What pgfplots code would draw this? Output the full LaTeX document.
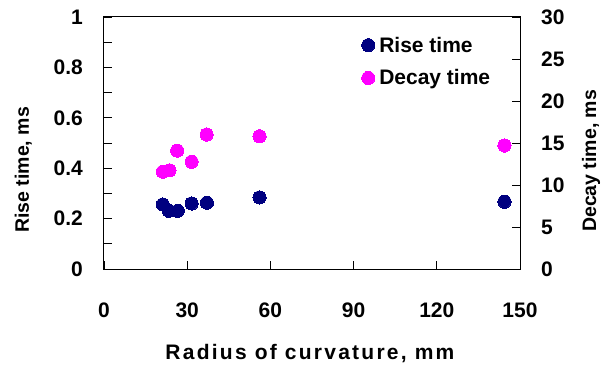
\documentclass[border=0pt]{standalone}
\usepackage{fontspec}
\setmainfont{Liberation Sans}
\usepackage{pgfplots}
\pgfplotsset{compat=1.18}
\definecolor{navyx}{RGB}{0,0,128}
\definecolor{magx}{RGB}{255,0,255}
\pgfplotstableread{
x y
21.2 0.256
23.4 0.231
26.6 0.231
31.6 0.260
37.1 0.263
56.1 0.284
144.4 0.267
}\risetable
\pgfplotstableread{
x y
21.2 11.58
23.6 11.74
26.4 14.09
31.6 12.77
37.0 16.0
56.1 15.8
144.4 14.7
}\decaytable
\pgfplotsset{
  common/.style={
    scale only axis, width=416pt, height=252pt, at={(0pt,0pt)}, anchor=south west,
    xmin=0, xmax=150,
    tick align=inside, major tick length=8pt, minor tick length=8pt,
    tick style={black, line width=0.8pt},
    axis line style={black, line width=1pt},
    /pgf/number format/assume math mode=true,
    ticklabel style={font=\fontsize{21}{21}\selectfont\bfseries, inner sep=0pt},
    ylabel style={font=\fontsize{19.5}{20}\selectfont\bfseries},
    xlabel style={font=\fontsize{21}{21}\selectfont\bfseries},
  },
  mk/.style={only marks, mark=*, mark size=6.6pt, color=#1, mark options={draw=#1, fill=#1, line width=0pt},
    legend image code/.code={\draw[##1] plot coordinates {(0pt,0pt)}; \path[draw=none,fill=none] (-6.6pt,0pt) rectangle (9pt,0.1pt);}},
}
\begin{document}
\begin{tikzpicture}
\useasboundingbox (-104pt,-95pt) rectangle (498pt,269pt);
\begin{axis}[common,
  ymin=0, ymax=1,
  xtick={0,30,...,150}, ytick={0,0.2,...,1},
  minor ytick={0.1,0.3,0.5,0.7,0.9},
  xtick pos=bottom, ytick pos=left,
  xticklabel style={anchor=north, yshift=-34pt},
  yticklabel style={anchor=east, xshift=-21pt},
  xlabel={\addfontfeatures{LetterSpace=10.7}Radius of curvature, mm},
  xlabel style={at={(axis description cs:0.495,0)}, anchor=base, yshift=-90pt},
  ylabel={Rise time, ms},
  ylabel style={at={(axis description cs:0,0.393)}, anchor=base, yshift=75pt},
]
\addplot[mk=navyx] table[x=x, y=y] {\risetable};
\end{axis}
\begin{axis}[common,
  axis x line=none, axis y line*=right,
  ymin=0, ymax=30, ytick={0,5,...,30},
  yticklabel style={anchor=west, xshift=21pt},
  ylabel={Decay time, ms},
  ylabel style={at={(axis description cs:1,0.429)}, anchor=base, yshift=-76pt},
  legend style={draw=none, fill=none, at={(axis description cs:0.619,0.93)}, anchor=north west,
    font=\fontsize{21}{21}\selectfont\bfseries, row sep=12pt, inner sep=0pt},
  legend cell align=left,
]
\addlegendimage{mk=navyx}
\addlegendentry{Rise time}
\addplot[mk=magx] table[x=x, y=y] {\decaytable};
\addlegendentry{Decay time}
\end{axis}
\end{tikzpicture}
\end{document}
